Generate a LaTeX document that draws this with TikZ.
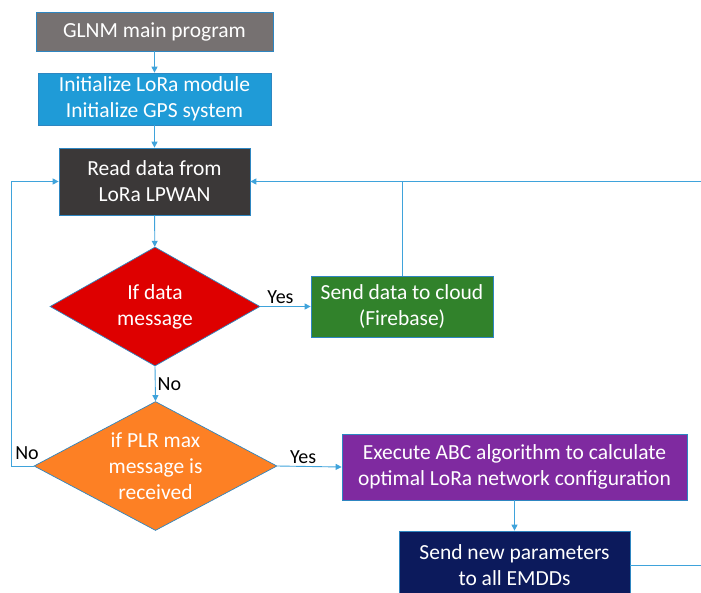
\documentclass[tikz,border=0pt]{standalone}
\usepackage{fontspec}
\setmainfont{Carlito}
\usetikzlibrary{shapes.geometric,arrows.meta}
\definecolor{glnmgray}{HTML}{767171}
\definecolor{initblue}{HTML}{1F9BD7}
\definecolor{readgray}{HTML}{3B3838}
\definecolor{datared}{HTML}{DE0000}
\definecolor{cloudgreen}{HTML}{31822B}
\definecolor{plrorange}{HTML}{FD8024}
\definecolor{abcpurple}{HTML}{7F2AA0}
\definecolor{paramnavy}{HTML}{0C1A5C}
\definecolor{edgeblue}{HTML}{2E86C1}
\definecolor{linkblue}{HTML}{3FA3DB}
\begin{document}
\begin{tikzpicture}[x=1pt, y=-1pt,
  box/.style={draw=edgeblue, line width=0.7pt, text=white, align=center, inner sep=0pt,
    font=\fontsize{21.5}{26}\selectfont},
  decision/.style={box, diamond},
  link/.style={draw=linkblue, line width=0.9pt},
  arrow/.style={link, -{Triangle[length=6pt,width=6pt]}},
  tag/.style={font=\fontsize{20}{24}\selectfont, inner sep=2pt}]
\useasboundingbox (0,0) rectangle (701,592);

% Process boxes
\node[box, fill=glnmgray, minimum width=237pt, minimum height=39pt] (glnm) at (154.5,31.5) {GLNM main program};
\node[box, fill=initblue, minimum width=233pt, minimum height=52pt] (init) at (154.5,99) {Initialize LoRa module\\Initialize GPS system};
\node[box, fill=readgray, minimum width=191pt, minimum height=67pt] (readdata) at (154.5,181.5) {Read data from\\LoRa LPWAN};
\node[box, fill=cloudgreen, minimum width=182pt, minimum height=61pt] (cloud) at (402,306.5) {Send data to cloud\\(Firebase)};
\node[box, fill=abcpurple, minimum width=345pt, minimum height=66pt] (abc) at (514.5,467) {Execute ABC algorithm to calculate\\optimal LoRa network configuration};
\node[box, fill=paramnavy, minimum width=231pt, minimum height=68pt] (sendparam) at (514.5,565) {Send new parameters\\to all EMDDs};

% Decisions
\node[decision, fill=datared, aspect=1.8, minimum width=210pt, minimum height=119pt] (ifdata) at (155,306.5) {If data\\message};
\node[decision, fill=plrorange, aspect=1.9, minimum width=243pt, minimum height=129pt] (ifplr) at (155.5,466) {if PLR max\\message is\\received};

% Main flow
\draw[arrow] (glnm) -- (init);
\draw[arrow] (init) -- (readdata);
\draw[arrow] (readdata) -- (ifdata);
\draw[arrow] (ifdata.east) -- node[tag, above, pos=0.4] {Yes} (cloud.west);
\draw[arrow] (ifdata.south) -- node[tag, right] {No} (ifplr.north);
\draw[arrow] (ifplr.east) -- node[tag, above, pos=0.4] {Yes} (abc.west);
\draw[arrow] (abc) -- (sendparam);

% Loops back to reading
\draw[arrow] (ifplr.west) -- node[tag, above, pos=0.3, yshift=4pt] {No} ++(-22,0) |- (readdata.west);
\draw[arrow] (sendparam.east) -- ++(80,0) |- (readdata.east);
\draw[link] (cloud.north) -- (cloud.north |- readdata.east);
\end{tikzpicture}
\end{document}
